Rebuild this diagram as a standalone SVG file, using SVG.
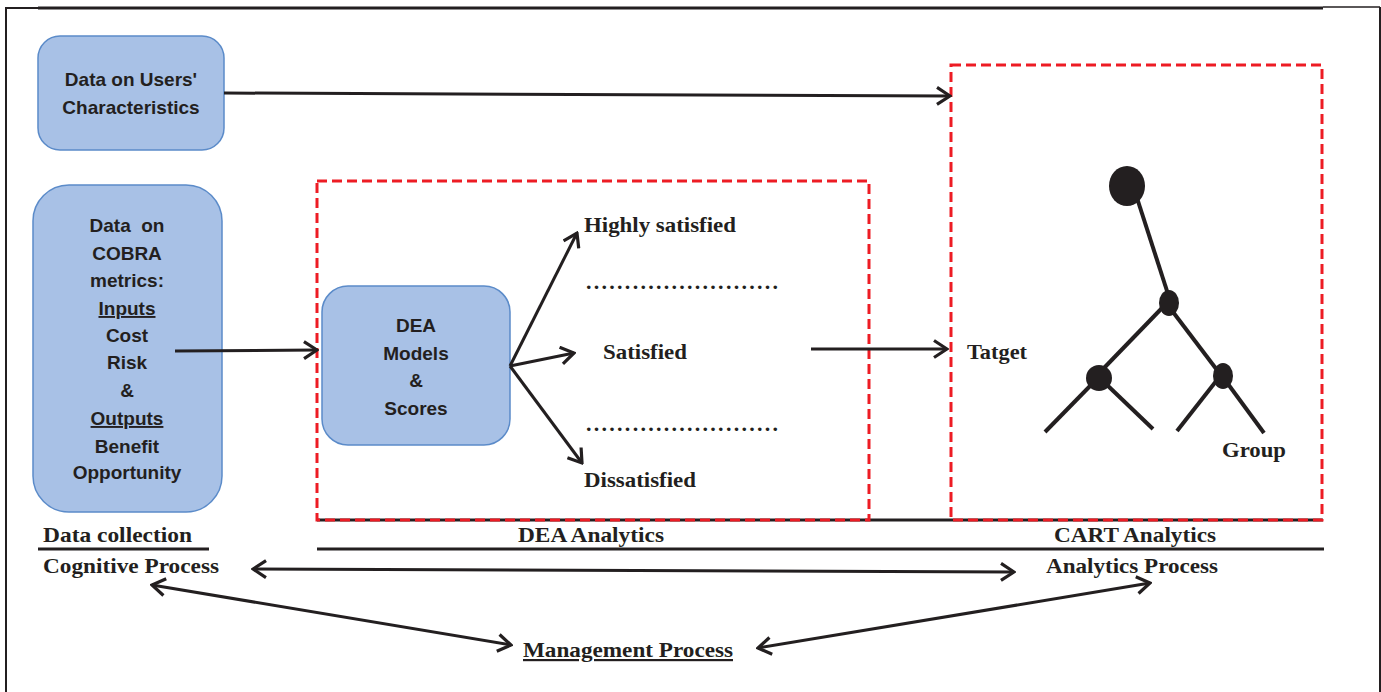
<svg xmlns="http://www.w3.org/2000/svg" width="1381" height="692" viewBox="0 0 1381 692">
<defs>
<style>
.box{fill:#a8c1e6;stroke:#5b8bc9;stroke-width:1.5}
.bt{font-family:"Liberation Sans",Arial,sans-serif;font-weight:bold;font-size:19px;fill:#231f20;text-anchor:middle}
.tt{font-family:"Liberation Serif","Times New Roman",serif;font-weight:bold;font-size:22px;fill:#231f20}
.dash{fill:none;stroke:#ed1c24;stroke-width:3;stroke-dasharray:10 5}
.frame{fill:none;stroke:#231f20}
.conn{fill:none;stroke:#231f20;stroke-width:3}
.tree{fill:none;stroke:#231f20;stroke-width:4}
.u{text-decoration:underline}
</style>
<marker id="ah" viewBox="-15 -10 17 20" refX="0" refY="0" markerWidth="17" markerHeight="20" markerUnits="userSpaceOnUse" orient="auto-start-reverse">
<path d="M-13,-8.5 L0,0 L-13,8.5" fill="none" stroke="#231f20" stroke-width="3.2"/>
</marker>
</defs>
<rect width="1381" height="692" fill="#ffffff"/>
<g id="frame">
<polyline class="frame" stroke-width="2" points="6,692 6,8 38,8"/>
<line class="frame" stroke-width="3" x1="38" y1="8" x2="1323" y2="8"/>
<line class="frame" stroke-width="1.5" x1="1323" y1="7" x2="1380" y2="7"/>
<line class="frame" stroke-width="2" x1="1380" y1="7" x2="1380" y2="692"/>
<line class="frame" stroke-width="3" x1="317" y1="520" x2="1323" y2="520"/>
<line class="frame" stroke-width="3" x1="317" y1="549" x2="1324" y2="549"/>
<line class="frame" stroke-width="3" x1="38" y1="549" x2="209" y2="549"/>
</g>
<g id="users">
<rect class="box" x="38" y="36" width="186" height="114" rx="22"/>
<text class="bt" x="131" y="86">Data on Users'</text>
<text class="bt" x="131" y="114">Characteristics</text>
</g>
<g id="cobra">
<rect class="box" x="33" y="185" width="189" height="327" rx="36"/>
<text class="bt" x="127" y="232" style="white-space:pre">Data  on</text>
<text class="bt" x="127" y="260">COBRA</text>
<text class="bt" x="127" y="287">metrics:</text>
<text class="bt u" x="127" y="315">Inputs</text>
<text class="bt" x="127" y="342">Cost</text>
<text class="bt" x="127" y="369">Risk</text>
<text class="bt" x="127" y="397">&amp;</text>
<text class="bt u" x="127" y="425">Outputs</text>
<text class="bt" x="127" y="453">Benefit</text>
<text class="bt" x="127" y="479">Opportunity</text>
</g>
<g id="dea-analytics">
<rect class="dash" x="317" y="181" width="552" height="339"/>
</g>
<g id="dea">
<rect class="box" x="322" y="286" width="188" height="159" rx="26"/>
<text class="bt" x="416" y="332">DEA</text>
<text class="bt" x="416" y="360">Models</text>
<text class="bt" x="416" y="387">&amp;</text>
<text class="bt" x="416" y="415">Scores</text>
</g>
<g id="classes">
<text class="tt" x="584" y="232" textLength="152" lengthAdjust="spacingAndGlyphs">Highly satisfied</text>
<text class="tt" x="586" y="289" textLength="192" lengthAdjust="spacing">.........................</text>
<text class="tt" x="603" y="359" textLength="84" lengthAdjust="spacingAndGlyphs">Satisfied</text>
<text class="tt" x="586" y="431" textLength="192" lengthAdjust="spacing">.........................</text>
<text class="tt" x="584" y="487" textLength="112" lengthAdjust="spacingAndGlyphs">Dissatisfied</text>
</g>
<g id="cart-analytics">
<rect class="dash" x="951" y="65" width="371" height="455"/>
<text class="tt" x="967" y="359" textLength="60" lengthAdjust="spacingAndGlyphs">Tatget</text>
<text class="tt" x="1222" y="457" textLength="64" lengthAdjust="spacingAndGlyphs">Group</text>
</g>
<g id="cart-tree">
<line class="tree" x1="1137" y1="198" x2="1168" y2="294"/>
<line class="tree" x1="1163" y1="307" x2="1104" y2="368"/>
<line class="tree" x1="1173" y1="312" x2="1217" y2="370"/>
<line class="tree" x1="1092" y1="384" x2="1045" y2="432"/>
<line class="tree" x1="1106" y1="384" x2="1153" y2="429"/>
<line class="tree" x1="1217" y1="380" x2="1177" y2="431"/>
<line class="tree" x1="1228" y1="384" x2="1264" y2="433"/>
<ellipse cx="1127" cy="186" rx="18" ry="20" fill="#231f20"/>
<ellipse cx="1169" cy="303" rx="10" ry="13" fill="#231f20"/>
<ellipse cx="1099" cy="378" rx="13" ry="13" fill="#231f20"/>
<ellipse cx="1223" cy="376" rx="10" ry="13" fill="#231f20"/>
</g>
<g id="labels">
<text class="tt" x="43" y="542" textLength="149" lengthAdjust="spacingAndGlyphs">Data collection</text>
<text class="tt" x="518" y="542" textLength="146" lengthAdjust="spacingAndGlyphs">DEA Analytics</text>
<text class="tt" x="1054" y="542" textLength="162" lengthAdjust="spacingAndGlyphs">CART Analytics</text>
<text class="tt" x="43" y="573" textLength="176" lengthAdjust="spacingAndGlyphs">Cognitive Process</text>
<text class="tt" x="1046" y="573" textLength="172" lengthAdjust="spacingAndGlyphs">Analytics Process</text>
<text class="tt u" x="523" y="657" textLength="210" lengthAdjust="spacingAndGlyphs">Management Process</text>
</g>
<g id="connectors">
<line class="conn" x1="224" y1="93" x2="950" y2="96" marker-end="url(#ah)"/>
<line class="conn" x1="175" y1="351" x2="317" y2="350" marker-end="url(#ah)"/>
<line class="conn" x1="510" y1="366" x2="577" y2="233" marker-end="url(#ah)"/>
<line class="conn" x1="510" y1="366" x2="574" y2="353" marker-end="url(#ah)"/>
<line class="conn" x1="510" y1="366" x2="582" y2="463" marker-end="url(#ah)"/>
<line class="conn" x1="811" y1="349" x2="947" y2="349" marker-end="url(#ah)"/>
<line class="conn" x1="253" y1="569" x2="1014" y2="572" marker-start="url(#ah)" marker-end="url(#ah)"/>
<line class="conn" x1="152" y1="585" x2="511" y2="645" marker-start="url(#ah)" marker-end="url(#ah)"/>
<line class="conn" x1="758" y1="648" x2="1150" y2="583" marker-start="url(#ah)" marker-end="url(#ah)"/>
</g>
</svg>
